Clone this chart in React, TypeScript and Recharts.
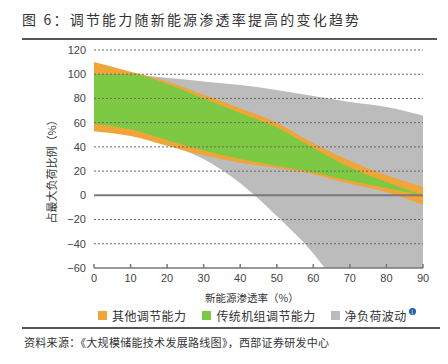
import { ComposedChart, Area, XAxis, YAxis, ReferenceLine } from 'recharts';

const penetration = [0, 10, 20, 30, 40, 50, 60, 70, 80, 90];

// 净负荷波动 (gray band)
const netLoadLow = [58, 52, 42, 30, 10, -17, -48, -90, -135, -185];
const netLoadHigh = [102, 100, 97, 94, 91, 87, 82, 77, 73, 66];

// 其他调节能力 (orange band)
const otherLow = [53, 49, 41, 33, 27, 22.5, 17.5, 9.5, 2.5, -8];
const otherHigh = [110, 102, 94, 83, 72, 60, 43, 28.5, 16.5, 7];

// 传统机组调节能力 (green band)
const thermalLow = [59, 54.5, 45.5, 37, 30, 24.5, 19, 12, 6, 0];
const thermalHigh = [100, 100, 92, 80, 68, 56, 39, 23, 11, 0];

const yTicks = [-60, -40, -20, 0, 20, 40, 60, 80, 100, 120];
const gridValues = [-40, -20, 20, 40, 60, 80, 100, 120];

const legendItems = [
  { name: '其他调节能力', color: '#EFA537' },
  { name: '传统机组调节能力', color: '#7DC943' },
  { name: '净负荷波动', color: '#BDBCBD' },
];

const data = penetration.map((x, i) => ({
  x,
  netLoad: [netLoadLow[i], netLoadHigh[i]],
  other: [otherLow[i], otherHigh[i]],
  thermal: [thermalLow[i], thermalHigh[i]],
}));

const cjk = '"Noto Sans CJK SC", sans-serif';
const tickStyle = { fill: '#444', fontSize: 11, fontFamily: '"Liberation Sans", Arial, sans-serif' };

export default function App() {
  return (
    <div style={{ position: 'relative', width: 448, height: 364, margin: -8, background: '#fff', fontFamily: cjk, overflow: 'hidden' }}>
      <div style={{ position: 'absolute', left: 22, top: 9, fontSize: 14, color: '#333', letterSpacing: 2.2, whiteSpace: 'nowrap' }}>
        图 6：调节能力随新能源渗透率提高的变化趋势
      </div>
      <div style={{ position: 'absolute', left: 0, top: 38, width: 4, height: 1.5, background: '#666' }} />
      <div style={{ position: 'absolute', left: 22, top: 38, width: 415, height: 1.5, background: '#555' }} />

      <div style={{ position: 'absolute', left: 0, top: 0 }}>
        <ComposedChart width={448} height={300} data={data} margin={{ top: 50, right: 25, bottom: 0, left: 0 }}>
          <XAxis
            dataKey="x"
            type="number"
            domain={[0, 90]}
            ticks={penetration}
            axisLine={{ stroke: '#777', strokeWidth: 1.5 }}
            tickLine={{ stroke: '#777', strokeWidth: 1.5 }}
            tickSize={-4}
            tickMargin={10}
            height={32}
            tick={tickStyle}
          />
          <YAxis
            type="number"
            domain={[-60, 120]}
            allowDataOverflow
            ticks={yTicks}
            axisLine={false}
            tickLine={false}
            tickSize={0}
            tickMargin={8}
            width={94}
            tick={tickStyle}
            tickFormatter={(v: number) => String(v).replace('-', '−')}
            label={{ value: '占最大负荷比例（%）', angle: -90, position: 'center', dx: 5, dy: 10, style: { fill: '#333', fontSize: 11, fontFamily: cjk } }}
          />
          <Area type="monotone" dataKey="netLoad" stroke="none" fill="#BDBCBD" fillOpacity={1} isAnimationActive={false} />
          {gridValues.map((v) => (
            <ReferenceLine key={v} y={v} stroke="#666" strokeDasharray="2 2" strokeWidth={1} />
          ))}
          <Area type="monotone" dataKey="other" stroke="none" fill="#EFA537" fillOpacity={1} isAnimationActive={false} />
          <Area type="monotone" dataKey="thermal" stroke="none" fill="#7DC943" fillOpacity={1} isAnimationActive={false} />
          <ReferenceLine y={0} stroke="#7a7a7a" strokeWidth={2} />
        </ComposedChart>
      </div>

      <div style={{ position: 'absolute', left: 205, top: 290, fontSize: 10.5, color: '#333', whiteSpace: 'nowrap' }}>
        新能源渗透率（%）
      </div>

      <div style={{ position: 'absolute', left: 98, top: 307, display: 'flex', alignItems: 'center', fontSize: 12, color: '#333', whiteSpace: 'nowrap' }}>
        {legendItems.map((item, i) => (
          <div key={item.name} style={{ display: 'flex', alignItems: 'center', marginRight: i === 0 ? 16 : i === 1 ? 15 : 0 }}>
            <span style={{ display: 'inline-block', width: 9, height: 9, background: item.color, marginRight: 5 }} />
            <span style={{ letterSpacing: 0.4 }}>{item.name}</span>
          </div>
        ))}
        <span style={{ display: 'inline-flex', alignItems: 'center', justifyContent: 'center', width: 7, height: 7, borderRadius: '50%', background: '#1f5fb0', color: '#fff', fontSize: 5, marginLeft: 2, marginTop: -9 }}>1</span>
      </div>

      <div style={{ position: 'absolute', left: 0, top: 327, width: 4, height: 1.5, background: '#666' }} />
      <div style={{ position: 'absolute', left: 22, top: 327, width: 420, height: 1.5, background: '#555' }} />
      <div style={{ position: 'absolute', left: 24, top: 334, fontSize: 11, color: '#333', letterSpacing: 0.3, whiteSpace: 'nowrap' }}>
        资料来源：《大规模储能技术发展路线图》，西部证券研发中心
      </div>
    </div>
  );
}
